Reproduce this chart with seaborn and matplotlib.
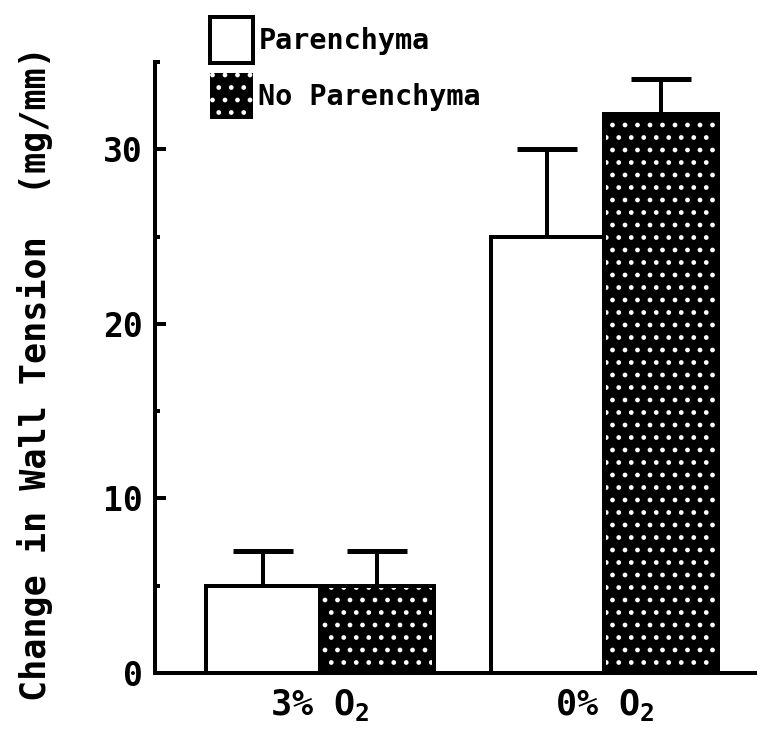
import matplotlib
matplotlib.use("Agg")
import matplotlib.pyplot as plt
from matplotlib.patches import Rectangle, Patch
from matplotlib.ticker import MultipleLocator, FixedLocator
import pandas as pd
import seaborn as sns

# Wall tension change by oxygen level, with and without parenchyma
conditions = ["3% O$_2$", "0% O$_2$"]
groups = ["Parenchyma", "No Parenchyma"]
parenchyma_mean = [5, 25]
parenchyma_err = [2, 5]
no_parenchyma_mean = [5, 32]
no_parenchyma_err = [2, 2]
y_ticks = [0, 10, 20, 30]

DPI = 150
W_PX, H_PX = 764, 740


def pt(px):
    """Convert a length in output pixels to points."""
    return px * 72.0 / DPI


sns.set_style("ticks")
plt.rcParams["font.family"] = ["DejaVu Sans Mono", "DejaVu Sans"]
plt.rcParams["font.weight"] = "bold"
plt.rcParams["text.color"] = "black"
plt.rcParams["axes.labelcolor"] = "black"
plt.rcParams["xtick.color"] = "black"
plt.rcParams["ytick.color"] = "black"
plt.rcParams["axes.edgecolor"] = "black"
plt.rcParams["mathtext.fontset"] = "custom"
plt.rcParams["mathtext.rm"] = "DejaVu Sans Mono:bold"
plt.rcParams["mathtext.default"] = "rm"
plt.rcParams["hatch.linewidth"] = pt(2.2)

df = pd.DataFrame({
    "condition": conditions * 2,
    "group": [groups[0]] * 2 + [groups[1]] * 2,
    "value": parenchyma_mean + no_parenchyma_mean,
})
err_values = parenchyma_err + no_parenchyma_err

fig = plt.figure(figsize=(W_PX / DPI, H_PX / DPI), dpi=DPI)
ax = fig.add_axes([155 / W_PX, 1 - 673 / H_PX, 600 / W_PX, 611 / H_PX])

sns.barplot(data=df, x="condition", y="value", hue="group",
            order=conditions, hue_order=groups,
            palette={groups[0]: "white", groups[1]: "black"},
            errorbar=None, width=0.8, gap=0, legend=False, ax=ax,
            linewidth=0, edgecolor="white", saturation=1)

bars = [p for p in ax.patches if isinstance(p, Rectangle)]
# bars come out hue-major: Parenchyma (both conditions), then No Parenchyma
for i, bar in enumerate(bars):
    x0, w, h = bar.get_x(), bar.get_width(), bar.get_height()
    if i >= len(conditions):
        bar.set_hatch("..")
        bar.set_edgecolor("white")
    ax.add_patch(Rectangle((x0, 0), w, h, fill=False, edgecolor="black",
                           linewidth=pt(4), zorder=3))
    # upper error bar only
    _, caps, _ = ax.errorbar([x0 + w / 2], [h], yerr=[[0], [err_values[i]]],
                             fmt="none", ecolor="black", elinewidth=pt(4),
                             capsize=pt(30), capthick=pt(5), zorder=2)
    for cap in caps:
        if cap.get_ydata()[0] <= h:
            cap.set_visible(False)

ax.set_ylim(0, 35)
ax.set_xlim(-0.58, 1.53)
ax.yaxis.set_major_locator(FixedLocator(y_ticks))
ax.yaxis.set_minor_locator(MultipleLocator(5))
ax.tick_params(axis="y", which="major", direction="in", length=pt(11),
               width=pt(4), labelsize=pt(33), pad=pt(12))
ax.tick_params(axis="y", which="minor", direction="in", length=pt(5),
               width=pt(4))
ax.tick_params(axis="x", length=0, labelsize=pt(35), pad=pt(14))
for lbl in ax.get_yticklabels() + ax.get_xticklabels():
    lbl.set_fontweight("bold")

sns.despine(ax=ax)
for side in ("left", "bottom"):
    ax.spines[side].set_linewidth(pt(4))

ax.set_xlabel("")
ax.set_ylabel("Change in Wall Tension  (mg/mm)", fontsize=pt(35),
              fontweight="bold")
ax.yaxis.set_label_coords(-0.17, 0.49)

handles = [
    Patch(facecolor="white", edgecolor="black", linewidth=pt(4)),
    Patch(facecolor="black", edgecolor="white", hatch="..", linewidth=0),
]
fs_leg = pt(28.5)
leg = fig.legend(handles, groups, loc="upper left",
                 bbox_to_anchor=(210 / W_PX, 1 - 17 / H_PX), frameon=False,
                 handlelength=1.5, handleheight=2.1,
                 handletextpad=0.2, labelspacing=0.35, borderaxespad=0,
                 borderpad=0, prop={"weight": "bold", "size": fs_leg})

fig.savefig("out.png", dpi=DPI)
